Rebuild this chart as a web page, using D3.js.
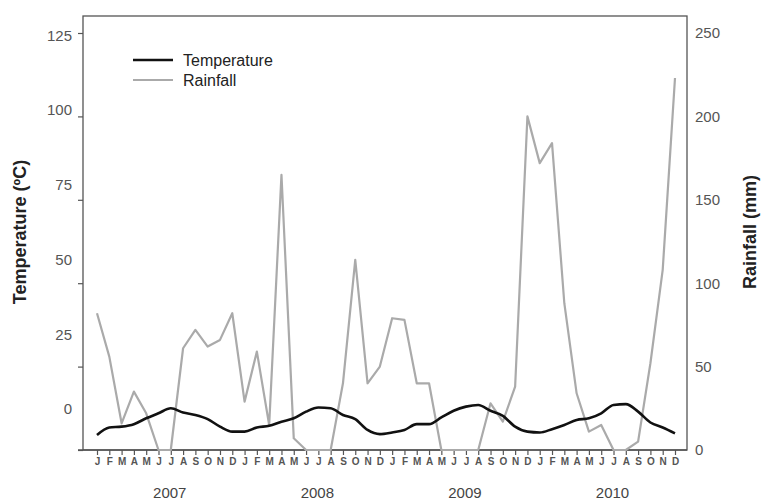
<!DOCTYPE html>
<html lang="en">
  <head>
    <meta charset="utf-8" />
    <title>Temperature and Rainfall</title>
    <script type="text/javascript" src="https://cdn.jsdelivr.net/npm/d3@7"></script>
    <style>
      body { margin: 0; background: white; }
    </style>
  </head>
  <body>
    <script type="text/javascript">
var months = ["J", "F", "M", "A", "M", "J", "J", "A", "S", "O", "N", "D"];
var years = [2007, 2008, 2009, 2010];
var leftTicks = [0, 25, 50, 75, 100, 125];
var rightTicks = [0, 50, 100, 150, 200, 250];

// monthly values, Jan 2007 .. Dec 2010
var temperature = [
  9, 13.5, 14, 15.5, 19, 22, 25, 22.5, 21, 18.5, 14, 11,
  11, 13.5, 14.5, 17, 19, 23, 25.5, 25, 21, 18.5, 12, 9.5,
  10.5, 12, 15.5, 15.5, 19.5, 23.5, 26, 27, 23.5, 20.5, 14, 11,
  10.5, 12.5, 15, 18, 19, 22, 27, 27.5, 23, 16.5, 13.5, 10
];
var rainfall = [
  82, 56, 16, 35, 22, 0, 0, 61, 72, 62, 66, 82,
  29, 59, 15, 165, 7, 0, 0, 0, 40, 114, 40, 50,
  79, 78, 40, 40, 0, 0, 0, 0, 28, 17, 38, 200,
  172, 184, 88, 34, 11, 15, 0, 0, 5, 52, 108, 223
];

var w = 762;
var h = 503;
var box = { left: 83, right: 687, top: 16, bottom: 450 };

var svg = d3.select("body")
            .append("svg")
            .attr("width", w)
            .attr("height", h)
            .attr("font-family", "Liberation Sans, Arial, sans-serif");

var xScale = d3.scaleLinear()
               .domain([0, temperature.length - 1])
               .range([97, 675]);
var yRight = d3.scaleLinear()
               .domain([0, 250])
               .range([box.bottom, 33]);
var yLeft = d3.scaleLinear()
              .domain([0, 125])
              .range([box.bottom, 33]);
// the left labels in the original sit a little off their ticks
var yLeftLabel = d3.scaleLinear()
                   .domain([0, 125])
                   .range([409, 35.5]);

// frame
svg.append("rect")
   .attr("x", box.left)
   .attr("y", box.top)
   .attr("width", box.right - box.left)
   .attr("height", box.bottom - box.top)
   .attr("fill", "none")
   .attr("stroke", "#555")
   .attr("stroke-width", 1.3);

// left axis: ticks only, labels placed below
var leftAxis = svg.append("g")
   .attr("transform", "translate(" + box.left + ",0)")
   .call(d3.axisLeft(yLeft).tickValues(leftTicks).tickSize(5).tickFormat(""));
leftAxis.select(".domain").remove();
leftAxis.selectAll("line").attr("stroke", "#555").attr("stroke-width", 1.2);

svg.append("g")
   .selectAll("text")
   .data(leftTicks)
   .enter()
   .append("text")
   .text(function(d) { return d; })
   .attr("x", 72)
   .attr("y", function(d) { return yLeftLabel(d); })
   .attr("dy", "0.35em")
   .attr("text-anchor", "end")
   .attr("font-size", "15px")
   .attr("fill", "#555");

// right axis
var rightAxis = svg.append("g")
   .attr("transform", "translate(" + box.right + ",0)")
   .call(d3.axisRight(yRight).tickValues(rightTicks).tickSize(0).tickPadding(8));
rightAxis.select(".domain").remove();
rightAxis.selectAll("text")
   .attr("font-size", "15px")
   .attr("fill", "#555");

// bottom axis with month letters
var bottomAxis = svg.append("g")
   .attr("transform", "translate(0," + box.bottom + ")")
   .call(d3.axisBottom(xScale)
           .tickValues(d3.range(temperature.length))
           .tickSize(5)
           .tickPadding(3)
           .tickFormat(function(d) { return months[d % 12]; }));
bottomAxis.select(".domain").remove();
bottomAxis.selectAll("line").attr("stroke", "#555").attr("stroke-width", 1.2);
bottomAxis.selectAll("text")
   .attr("font-size", "10px")
   .attr("font-weight", "bold")
   .attr("fill", "#555");

// bottom line runs a little past the frame on the left
svg.append("line")
   .attr("x1", 78)
   .attr("x2", box.right)
   .attr("y1", box.bottom)
   .attr("y2", box.bottom)
   .attr("stroke", "#555")
   .attr("stroke-width", 1.3);

// year labels under July of each year
svg.append("g")
   .selectAll("text")
   .data(years)
   .enter()
   .append("text")
   .text(function(d) { return d; })
   .attr("x", function(d, i) { return xScale(i * 12 + 6) - 1; })
   .attr("y", 498)
   .attr("text-anchor", "middle")
   .attr("font-size", "15px")
   .attr("fill", "#444");

// axis titles
svg.append("text")
   .text("Temperature (ºC)")
   .attr("transform", "translate(26,232) rotate(-90)")
   .attr("text-anchor", "middle")
   .attr("font-size", "18px")
   .attr("font-weight", "bold")
   .attr("fill", "#222");
svg.append("text")
   .text("Rainfall (mm)")
   .attr("transform", "translate(756,232) rotate(-90)")
   .attr("text-anchor", "middle")
   .attr("font-size", "18px")
   .attr("font-weight", "bold")
   .attr("fill", "#222");

// lines
var rainLine = d3.line()
                 .x(function(d, i) { return xScale(i); })
                 .y(function(d) { return yRight(d); });
svg.append("path")
   .datum(rainfall)
   .attr("d", rainLine)
   .attr("fill", "none")
   .attr("stroke", "#aaa")
   .attr("stroke-width", 2.2)
   .attr("stroke-linejoin", "round");

var tempLine = d3.line()
                 .x(function(d, i) { return xScale(i); })
                 .y(function(d) { return yRight(d); })
                 .curve(d3.curveMonotoneX);
svg.append("path")
   .datum(temperature)
   .attr("d", tempLine)
   .attr("fill", "none")
   .attr("stroke", "#111")
   .attr("stroke-width", 2.6)
   .attr("stroke-linejoin", "round");

// legend
var legend = [
  { name: "Temperature", color: "#111", width: 2.6 },
  { name: "Rainfall", color: "#aaa", width: 2.2 }
];
var items = svg.append("g")
   .selectAll("g")
   .data(legend)
   .enter()
   .append("g")
   .attr("transform", function(d, i) { return "translate(133," + (60 + i * 20) + ")"; });
items.append("line")
     .attr("x1", 0)
     .attr("x2", 40)
     .attr("stroke", function(d) { return d.color; })
     .attr("stroke-width", function(d) { return d.width; });
items.append("text")
     .text(function(d) { return d.name; })
     .attr("x", 50)
     .attr("dy", "0.35em")
     .attr("font-size", "16px")
     .attr("fill", "#222");
    </script>
  </body>
</html>
